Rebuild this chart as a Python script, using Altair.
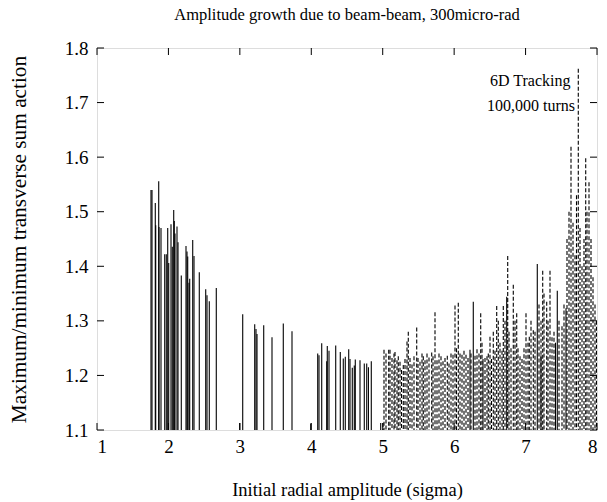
import altair as alt
import pandas as pd

# solid impulses (x < 5 region and a few in the dashed region)
solid_x = [1.756, 1.77, 1.816, 1.822, 1.864, 1.868, 1.896, 1.948, 1.97, 1.99,
           2.004, 2.036, 2.054, 2.074, 2.082, 2.092, 2.12, 2.134, 2.18, 2.246,
           2.26, 2.27, 2.288, 2.298, 2.34, 2.358, 2.432, 2.522, 2.54, 2.572,
           2.67, 2.998, 3.04, 3.208, 3.226, 3.24, 3.334, 3.45, 3.608, 3.73,
           3.992, 4.09, 4.108, 4.146, 4.216, 4.224, 4.248, 4.342, 4.406, 4.448,
           4.476, 4.524, 4.542, 4.574, 4.602, 4.616, 4.682, 4.742, 4.776, 4.8,
           4.84, 4.972, 6.222, 6.268, 6.404, 6.736, 7.164, 7.216, 7.419, 7.444,
           7.566]
solid_y = [1.54, 1.54, 1.516, 1.475, 1.556, 1.472, 1.47, 1.422, 1.422, 1.47,
           1.406, 1.477, 1.436, 1.503, 1.483, 1.46, 1.473, 1.444, 1.383, 1.437,
           1.427, 1.418, 1.37, 1.377, 1.448, 1.419, 1.389, 1.358, 1.347, 1.336,
           1.36, 1.113, 1.312, 1.294, 1.285, 1.276, 1.292, 1.27, 1.295, 1.281,
           1.112, 1.24, 1.237, 1.259, 1.226, 1.254, 1.245, 1.255, 1.243, 1.231,
           1.234, 1.248, 1.23, 1.214, 1.218, 1.229, 1.228, 1.222, 1.222, 1.215,
           1.226, 1.113, 1.247, 1.335, 1.23, 1.344, 1.404, 1.237, 1.26, 1.355,
           1.323]

# dashed impulses (x >= 5 region)
dashed_x = [5.004, 5.018, 5.046, 5.084, 5.102, 5.13, 5.158, 5.172, 5.2, 5.218,
            5.242, 5.263, 5.288, 5.312, 5.34, 5.358, 5.382, 5.41, 5.438, 5.476,
            5.494, 5.522, 5.55, 5.568, 5.592, 5.62, 5.648, 5.686, 5.704, 5.732,
            5.76, 5.788, 5.816, 5.844, 5.872, 5.904, 5.928, 5.956, 5.984, 6.012,
            6.033, 6.058, 6.082, 6.11, 6.138, 6.166, 6.194, 6.236, 6.292, 6.32,
            6.348, 6.372, 6.39, 6.432, 6.46, 6.478, 6.502, 6.523, 6.548, 6.572,
            6.596, 6.618, 6.642, 6.67, 6.688, 6.712, 6.75, 6.768, 6.796, 6.828,
            6.852, 6.876, 6.894, 6.922, 6.95, 6.978, 7.006, 7.034, 7.052, 7.076,
            7.108, 7.132, 7.188, 7.216, 7.24, 7.258, 7.296, 7.314, 7.342, 7.37,
            7.398, 7.468, 7.51, 7.538, 7.58, 7.608, 7.636, 7.664, 7.692, 7.713,
            7.738, 7.762, 7.79, 7.818, 7.842, 7.86, 7.888, 7.916, 7.944, 7.972,
            7.993]
dashed_y = [1.113, 1.247, 1.24, 1.247, 1.247, 1.232, 1.24, 1.243, 1.228, 1.235,
            1.225, 1.21, 1.219, 1.23, 1.262, 1.28, 1.232, 1.22, 1.235, 1.288,
            1.232, 1.225, 1.24, 1.235, 1.228, 1.24, 1.233, 1.242, 1.235, 1.316,
            1.228, 1.24, 1.235, 1.226, 1.232, 1.236, 1.222, 1.24, 1.238, 1.328,
            1.25, 1.333, 1.24, 1.238, 1.245, 1.238, 1.232, 1.24, 1.236, 1.248,
            1.24, 1.314, 1.26, 1.232, 1.235, 1.24, 1.271, 1.23, 1.28, 1.245,
            1.327, 1.3, 1.26, 1.245, 1.327, 1.3, 1.419, 1.28, 1.25, 1.366,
            1.3, 1.314, 1.25, 1.235, 1.23, 1.25, 1.314, 1.26, 1.271, 1.3,
            1.283, 1.28, 1.33, 1.3, 1.392, 1.35, 1.335, 1.3, 1.392, 1.27,
            1.28, 1.3, 1.29, 1.33, 1.45, 1.5, 1.619, 1.48, 1.42, 1.53,
            1.762, 1.47, 1.4, 1.45, 1.598, 1.5, 1.554, 1.45, 1.38, 1.33,
            1.3]

x_ticks = [1, 2, 3, 4, 5, 6, 7, 8]
y_ticks = [1.1, 1.2, 1.3, 1.4, 1.5, 1.6, 1.7, 1.8]

FONT = "Liberation Serif"

solid_df = pd.DataFrame({"x": solid_x, "y": solid_y})
dashed_df = pd.DataFrame({"x": dashed_x, "y": dashed_y})
xt_df = pd.DataFrame({"x": x_ticks})
yt_df = pd.DataFrame({"y": y_ticks})

xscale = alt.Scale(domain=[1, 8], nice=False, zero=False)
yscale = alt.Scale(domain=[1.1, 1.8], nice=False, zero=False)

xaxis = alt.Axis(values=x_ticks, format="d", title="Initial radial amplitude (sigma)",
                 grid=False, ticks=False, domain=False, labelFont=FONT, labelFontSize=19,
                 labelPadding=7, labelColor="black", titleFont=FONT, titleFontSize=18.5,
                 titleFontWeight="normal", titleColor="black", titlePadding=24)
yaxis = alt.Axis(values=y_ticks, format=".1f",
                 title="Maximum/minimum transverse sum action",
                 grid=False, ticks=False, domain=False, labelFont=FONT, labelFontSize=19,
                 labelPadding=9, labelColor="black", titleFont=FONT, titleFontSize=21.3,
                 titleFontWeight="normal", titleColor="black", titlePadding=35)

X = alt.X("x:Q", scale=xscale, axis=xaxis)
Y = alt.Y("y:Q", scale=yscale, axis=yaxis)

solid = alt.Chart(solid_df).mark_rule(color="black", strokeWidth=1.1, clip=True).encode(
    x=X, y=Y, y2=alt.datum(1.1),
)

dashed = alt.Chart(dashed_df).mark_rule(color="black", strokeWidth=1.1,
                                         strokeDash=[4, 2], clip=True).encode(
    x=X, y=Y, y2=alt.datum(1.1),
)

tick_left = alt.Chart(yt_df).mark_rule(color="black", strokeWidth=1).encode(
    y=Y, x=alt.value(0), x2=alt.value(7))
tick_right = alt.Chart(yt_df).mark_rule(color="black", strokeWidth=1).encode(
    y=Y, x=alt.value(493), x2=alt.value(500))
tick_bottom = alt.Chart(xt_df).mark_rule(color="black", strokeWidth=1).encode(
    x=X, y=alt.value(382), y2=alt.value(375))
tick_top = alt.Chart(xt_df).mark_rule(color="black", strokeWidth=1).encode(
    x=X, y=alt.value(0), y2=alt.value(7))

label1 = alt.Chart(pd.DataFrame({"txt": ["6D Tracking"]})).mark_text(
    font=FONT, fontSize=16, align="left", baseline="middle", color="black").encode(
    text="txt:N", x=alt.value(393), y=alt.value(33))
label2 = alt.Chart(pd.DataFrame({"txt": ["100,000 turns"]})).mark_text(
    font=FONT, fontSize=16, align="left", baseline="middle", color="black").encode(
    text="txt:N", x=alt.value(390), y=alt.value(58))

chart = alt.layer(solid, dashed, tick_left, tick_right, tick_bottom, tick_top,
                  label1, label2).properties(
    width=500, height=382,
    title=alt.TitleParams("Amplitude growth due to beam-beam, 300micro-rad",
                          font=FONT, fontSize=16.5, fontWeight="normal", color="black",
                          anchor="middle", offset=16),
    autosize=alt.AutoSizeParams(type="none"),
    padding={"left": 97, "top": 48, "right": 10, "bottom": 72},
).configure_view(stroke="black", strokeWidth=1.2).configure(background="white")

chart.save("out.html", embed_options={"renderer": "svg", "actions": False})
